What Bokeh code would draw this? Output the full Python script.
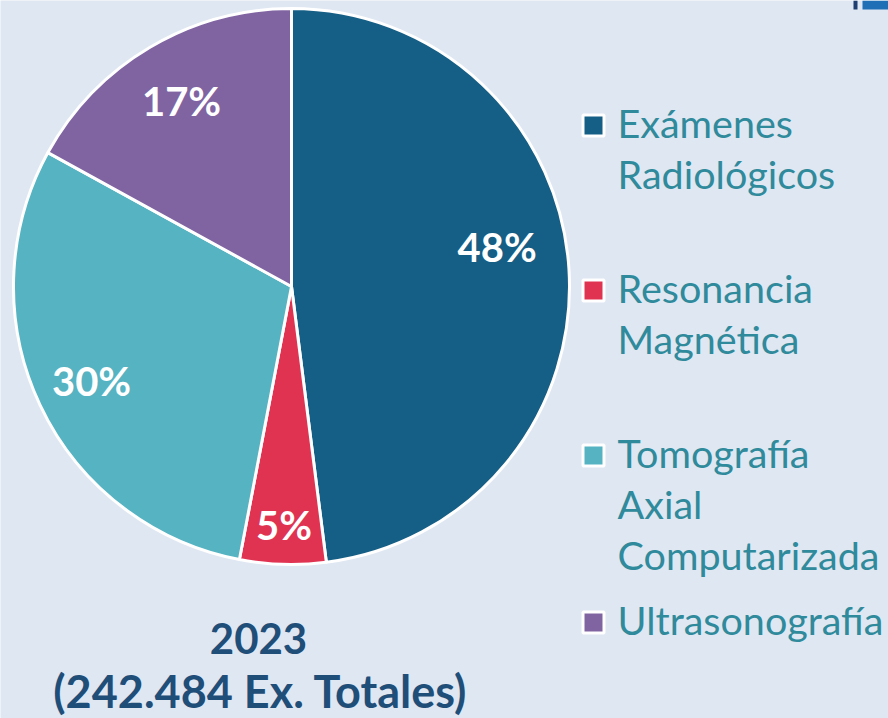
import math
from bokeh.plotting import figure
from bokeh.models import Range1d, ColumnDataSource
from bokeh.core.properties import value
from bokeh.embed import file_html
from bokeh.resources import INLINE

# ---- data ----
categories = ["Exámenes\nRadiológicos", "Resonancia\nMagnética",
              "Tomografía\nAxial\nComputarizada", "Ultrasonografía"]
shares = [48, 5, 30, 17]
colors = ["#155E85", "#E03352", "#55B3C2", "#8064A2"]
title_lines = ["2023", "(242.484 Ex. Totales)"]

BG = "#DFE7F2"
W, H = 888, 718

p = figure(width=W, height=H, output_backend="svg", toolbar_location=None,
           x_range=Range1d(0, W), y_range=Range1d(0, H),
           min_border=0, background_fill_color=BG, border_fill_color=BG)
p.axis.visible = False
p.grid.visible = False
p.outline_line_color = None

def sx(x):
    return x
def sy(y):
    return H - y

cx, cy, R = sx(291), sy(286), 278

total = sum(shares)
starts, ends, mids = [], [], []
acc = 0.0
for s in shares:
    a0 = acc / total
    acc += s
    a1 = acc / total
    starts.append(math.pi / 2 - 2 * math.pi * a0)
    ends.append(math.pi / 2 - 2 * math.pi * a1)
    mids.append(math.pi / 2 - 2 * math.pi * (a0 + a1) / 2)

src = ColumnDataSource(dict(start=starts, end=ends, color=colors))
p.wedge(x=cx, y=cy, radius=R, start_angle="start", end_angle="end",
        direction="clock", fill_color="color", line_color="white",
        line_width=3, source=src)

# percentage labels
label_r = [206, 239, 221, 216]
label_dy = [27, 0, 0, 0]
lx = [cx + r * math.cos(m) for r, m in zip(label_r, mids)]
ly = [cy + r * math.sin(m) + d for r, m, d in zip(label_r, mids, label_dy)]
p.text(x=lx, y=ly, text=[f"{s}%" for s in shares], text_color="white",
       text_font=value("Lato"), text_font_style="bold", text_font_size="40px",
       text_align="center", text_baseline="middle")

# legend
leg_y = [125, 290, 455, 622]
line_h = 51
p.scatter(x=[sx(593)] * 4, y=[sy(v) for v in leg_y], marker="square",
          size=21, fill_color=colors, line_color="white", line_width=3)
tx, ty, tt = [], [], []
for cat, y0 in zip(categories, leg_y):
    for i, ln in enumerate(cat.split("\n")):
        tx.append(sx(617))
        ty.append(sy(y0 - 3 + i * line_h))
        tt.append(ln)
p.text(x=tx, y=ty, text=tt, text_color="#2F8A9B", text_font=value("Lato"),
       text_font_size="39.5px", text_align="left", text_baseline="middle")

# caption
p.text(x=[sx(258), sx(260)], y=[sy(638), sy(690)], text=title_lines,
       text_color="#1F4E79", text_font=value("Lato"), text_font_style="bold",
       text_font_size=["42px", "45px"], text_align="center",
       text_baseline="middle")

# cut-off logo fragment at top right
p.quad(left=[sx(853), sx(862)], right=[sx(857), sx(888)],
       top=[sy(0), sy(0)], bottom=[sy(9), sy(9)],
       fill_color=["#1F3F73", "#1E6FB5"], line_color=None)

html = file_html(p, INLINE)
html = html.replace("<body>", f'<body style="background:{BG};margin:0">', 1)
open("out.html", "w").write(html)
